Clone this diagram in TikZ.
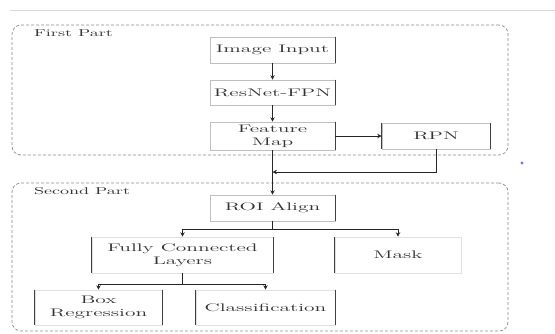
\documentclass[tikz,border=0pt]{standalone}
\usepackage{graphicx}
\usetikzlibrary{arrows.meta}
\newcommand{\sx}[1]{\scalebox{1.95}[1]{#1}}
\newcommand{\sxx}[2]{\scalebox{1.95}[1]{\begin{tabular}{@{}c@{}}#1\\#2\end{tabular}}}
\begin{document}
\begin{tikzpicture}[x=1pt,y=-1pt,
  box/.style={draw=black!25, line width=0.6pt, inner sep=0pt, font=\fontsize{11}{13}\selectfont, text=black!80},
  faint/.style={draw=black!12},
  vedge/.style={draw=black!75, line width=0.8pt},
  arr/.style={draw=black!85, line width=0.8pt, -{Stealth[length=4.5pt,width=4.5pt]}},
  conn/.style={draw=black!85, line width=0.8pt},
  part/.style={draw=black!45, dash pattern=on 3pt off 2pt, rounded corners=9pt, line width=0.7pt},
  lab/.style={anchor=west, inner sep=0pt, font=\fontsize{10}{12}\selectfont, text=black!80}]
\useasboundingbox (0,0) rectangle (555,333);
\fill[white] (0,0) rectangle (555,333);
\draw[black!15, line width=0.6pt] (10,10) -- (555,10);
\fill[blue!55] (522,163) circle (1.6);

% containers
\node[part, minimum width=496pt, minimum height=130pt] (p1) at (260,90) {};
\node[part, minimum width=496pt, minimum height=148pt] (p2) at (260,257) {};
\node[lab] (fp) at (34,33) {\scalebox{1.8}[1]{First Part}};
\node[lab] (sp) at (34,191) {\scalebox{1.8}[1]{Second Part}};

% boxes
\node[box, minimum width=125pt, minimum height=26pt] (img) at (272.5,50) {\sx{Image Input}};
\node[box, minimum width=125pt, minimum height=25pt] (res) at (272.5,92.5) {\sx{ResNet-FPN}};
\node[box, minimum width=125pt, minimum height=28pt] (feat) at (272.5,136) {\sxx{Feature}{Map}};
\node[box, minimum width=108pt, minimum height=26pt] (rpn) at (436,136) {\sx{RPN}};
\node[box, minimum width=125pt, minimum height=26pt] (roi) at (272.5,208) {\sx{ROI Align}};
\node[box, faint, minimum width=181pt, minimum height=36pt] (fc) at (182.5,255) {\sxx{Fully Connected}{Layers}};
\node[box, faint, minimum width=126pt, minimum height=36pt] (mask) at (398,255) {\sx{Mask}};
\node[box, faint, minimum width=127pt, minimum height=35pt] (boxr) at (98.5,307.5) {\sxx{Box}{Regression}};
\node[box, faint, minimum width=139pt, minimum height=35pt] (cls) at (265.5,307.5) {\sx{Classification}};

% darker vertical edges
\foreach \n in {img,res,feat,rpn,roi,fc,boxr,cls}
  \draw[vedge] (\n.north east) -- (\n.south east);
\foreach \n in {rpn,fc,mask,boxr,cls}
  \draw[vedge] (\n.north west) -- (\n.south west);

% connectors
\draw[arr] (img) -- (res);
\draw[arr] (res) -- (feat);
\draw[arr] (feat) -- (rpn);
\draw[arr] (feat) -- (roi);
\coordinate (j) at (272.5,172);
\draw[arr] (rpn.south) |- (j);
\coordinate (s1) at (272.5,229);
\draw[conn] (roi.south) -- (s1);
\draw[arr] (s1) -| (fc.north);
\draw[arr] (s1) -| (mask.north);
\coordinate (s2) at (182.5,284);
\draw[conn] (fc.south) -- (s2);
\draw[arr] (s2) -| (boxr.north);
\draw[arr] (s2) -| (cls.north);
\end{tikzpicture}
\end{document}
